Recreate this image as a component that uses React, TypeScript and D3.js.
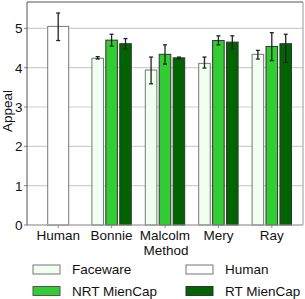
import React from 'react';
import * as d3 from 'd3';

const categories = ['Human', 'Bonnie', 'Malcolm', 'Mery', 'Ray'];
const series = ['Faceware', 'NRT MienCap', 'RT MienCap'];
const seriesColors = ['#f0fff0', '#32cd32', '#006400'];

const humanValue = { mean: 5.05, lo: 4.69, hi: 5.39 };

// per character: [Faceware, NRT, RT]
const means = [
  [4.24, 4.70, 4.61],
  [3.94, 4.34, 4.25],
  [4.11, 4.69, 4.65],
  [4.34, 4.54, 4.61],
];
const lows = [
  [4.22, 4.55, 4.48],
  [3.59, 4.09, 4.23],
  [3.99, 4.58, 4.49],
  [4.22, 4.18, 4.13],
];
const highs = [
  [4.28, 4.85, 4.74],
  [4.27, 4.58, 4.27],
  [4.27, 4.81, 4.81],
  [4.44, 4.89, 4.85],
];
const yTicks = [0, 1, 2, 3, 4, 5];

const W = 305;
const H = 299;
const left = 27;
const right = 303;
const top = 2;
const bottom = 225;

const App = () => {
  const x = d3.scaleBand().domain(categories).range([left + 4.5, right - 4.5]);
  const y = d3.scaleLinear().domain([0, 5.67]).range([bottom, top]);
  const sub = d3.scaleBand().domain(series).range([-19.7, 19.7]).paddingInner(0.17);
  const font = 'Liberation Sans, Arial, sans-serif';
  const fs = 13.5;

  const errBar = (cx: number, lo: number, hi: number, key: string) => (
    <g key={key} stroke="#222" strokeWidth={1.3}>
      <line x1={cx} x2={cx} y1={y(lo)} y2={y(hi)} />
      <line x1={cx - 2} x2={cx + 2} y1={y(lo)} y2={y(lo)} />
      <line x1={cx - 2} x2={cx + 2} y1={y(hi)} y2={y(hi)} />
    </g>
  );

  const hx = x('Human')! + x.bandwidth() / 2;

  return (
    <svg width={W} height={H} style={{ position: 'absolute', left: 0, top: 0 }} fontFamily={font}>
      <rect width={W} height={H} fill="#fff" />
      {yTicks.map(t => (
        <g key={t}>
          <line x1={left} x2={right} y1={y(t)} y2={y(t)} stroke="#cfcfcf" strokeWidth={1.2} />
          <line x1={left - 3} x2={left} y1={y(t)} y2={y(t)} stroke="#888" />
          <text x={left - 4.5} y={y(t)} dy="0.36em" textAnchor="end" fontSize={fs} fill="#111">{t}</text>
        </g>
      ))}
      {/* human bar */}
      <rect x={hx - 10.5} y={y(humanValue.mean)} width={21} height={bottom - y(humanValue.mean)}
        fill="#fff" stroke="#777" strokeWidth={1} />
      {errBar(hx, humanValue.lo, humanValue.hi, 'h')}
      {categories.slice(1).map((c, i) => {
        const cx = x(c)! + x.bandwidth() / 2;
        return (
          <g key={c}>
            {series.map((s, j) => {
              const bx = cx + sub(s)!;
              const v = means[i][j];
              return (
                <rect key={s} x={bx} y={y(v)} width={sub.bandwidth()} height={bottom - y(v)}
                  fill={seriesColors[j]} stroke={j === 0 ? '#777' : '#333'} strokeWidth={1} />
              );
            })}
            {series.map((s, j) => errBar(cx + sub(s)! + sub.bandwidth() / 2, lows[i][j], highs[i][j], s))}
          </g>
        );
      })}
      {/* frame */}
      <line x1={left} x2={right} y1={bottom} y2={bottom} stroke="#999" />
      <line x1={right} x2={right} y1={top} y2={bottom} stroke="#999" />
      <line x1={left} x2={right} y1={top} y2={top} stroke="#555" />
      <line x1={left} x2={left} y1={top} y2={bottom} stroke="#555" />
      {categories.map(c => {
        const cx = x(c)! + x.bandwidth() / 2;
        return (
          <g key={c}>
            <line x1={cx} x2={cx} y1={bottom} y2={bottom + 3} stroke="#888" />
            <text x={cx} y={240} textAnchor="middle" fontSize={fs} fill="#111">{c}</text>
          </g>
        );
      })}
      <text x={166} y={254.5} textAnchor="middle" fontSize={fs} fill="#111">Method</text>
      <text transform={`translate(12,111) rotate(-90)`} textAnchor="middle"
        fontSize={fs} fill="#111">Appeal</text>
      {/* legend */}
      {[
        { label: 'Faceware', color: seriesColors[0], stroke: '#777', lx: 33, ly: 269.5 },
        { label: 'NRT MienCap', color: seriesColors[1], stroke: '#555', lx: 33, ly: 291 },
        { label: 'Human', color: '#fff', stroke: '#777', lx: 186, ly: 269.5 },
        { label: 'RT MienCap', color: seriesColors[2], stroke: '#333', lx: 186, ly: 291 },
      ].map(l => (
        <g key={l.label}>
          <rect x={l.lx} y={l.ly - 4.5} width={27} height={9} fill={l.color} stroke={l.stroke} />
          <text x={l.lx + 39} y={l.ly} dy="0.36em" fontSize={fs} fill="#111">{l.label}</text>
        </g>
      ))}
    </svg>
  );
};

export default App;
